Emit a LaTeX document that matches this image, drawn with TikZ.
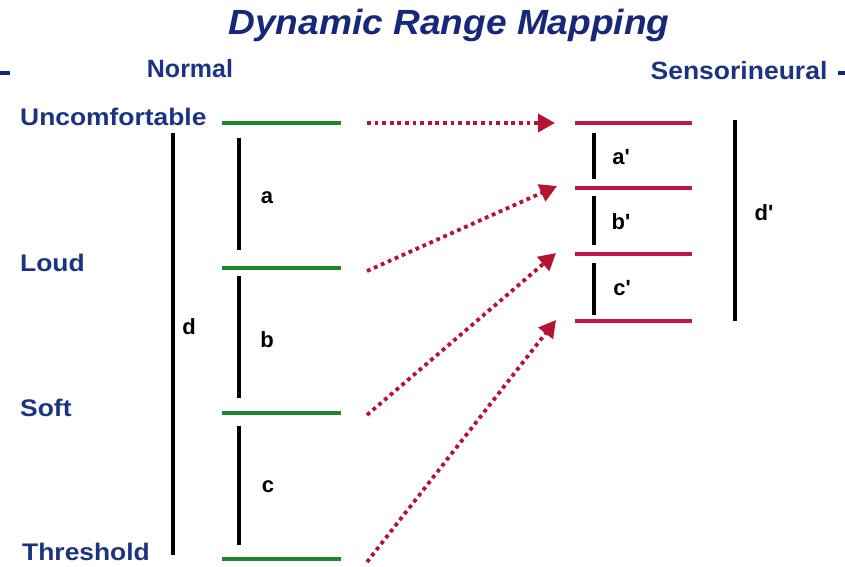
\documentclass[tikz,border=0pt]{standalone}
\usepackage{fontspec}
\setmainfont{Liberation Sans}
\newfontfamily\plainsans{Liberation Sans}
\usetikzlibrary{arrows.meta}
\definecolor{txtblue}{RGB}{28,52,128}
\definecolor{ttlblue}{RGB}{24,40,120}
\definecolor{lvlgreen}{RGB}{30,135,45}
\definecolor{lvlred}{RGB}{190,25,70}
\definecolor{arrred}{RGB}{180,20,50}
\tikzset{
  lbl/.style={font=\fontsize{24}{24}\selectfont\bfseries, text=txtblue, inner sep=0pt, xscale=1.1, anchor=west},
  hdr/.style={font=\fontsize{25}{25}\selectfont\bfseries, text=txtblue, inner sep=0pt},
  ttl/.style={font=\fontsize{35}{35}\selectfont\bfseries\itshape, text=ttlblue, inner sep=0pt, xscale=1.06},
  letter/.style={font=\plainsans\fontsize{22}{22}\selectfont\bfseries, text=black, inner sep=0pt},
  glevel/.style={draw=lvlgreen, line width=4pt},
  rlevel/.style={draw=lvlred, line width=4pt},
  span/.style={draw=black, line width=3.5pt},
  maparrow/.style={draw=arrred, line width=3.8pt, dash pattern=on 3.8pt off 3.8pt,
    -{Triangle[length=17pt,width=18pt,fill=arrred]}},
  tick/.style={draw=ttlblue, line width=4pt}
}
\begin{document}
\begin{tikzpicture}[x=1pt,y=-1pt]
\useasboundingbox (0,0) rectangle (845,566);
\fill[white] (0,0) rectangle (845,566);
% title and headers
\node[ttl] (title) at (449,25) {Dynamic Range Mapping};
\node[hdr] (normal) at (190,69) {Normal};
\node[hdr, xscale=1.06] (sensor) at (739,71) {Sensorineural};
\coordinate (tl1) at (0,73); \coordinate (tl2) at (10,73);
\coordinate (tr1) at (838,73); \coordinate (tr2) at (845,73);
\draw[tick] (tl1) -- (tl2);
\draw[tick] (tr1) -- (tr2);
% left labels
\node[lbl] (unc) at (20,117) {Uncomfortable};
\node[lbl] (loud) at (20,263) {Loud};
\node[lbl] (soft) at (20,408) {Soft};
\node[lbl] (thr) at (22,552) {Threshold};
% green levels
\coordinate (g1w) at (222,123); \coordinate (g1e) at (341,123);
\coordinate (g2w) at (222,268); \coordinate (g2e) at (341,268);
\coordinate (g3w) at (222,413); \coordinate (g3e) at (341,413);
\coordinate (g4w) at (222,559); \coordinate (g4e) at (341,559);
\draw[glevel] (g1w) -- (g1e);
\draw[glevel] (g2w) -- (g2e);
\draw[glevel] (g3w) -- (g3e);
\draw[glevel] (g4w) -- (g4e);
% left spans
\coordinate (dt) at (173,133); \coordinate (db) at (173,555);
\draw[span] (dt) -- (db);
\node[letter] (dl) at (189,327) {d};
\coordinate (at) at (239,138); \coordinate (ab) at (239,250);
\coordinate (bt) at (239,276); \coordinate (bb) at (239,398);
\coordinate (ct) at (239,426); \coordinate (cb) at (239,545);
\draw[span] (at) -- (ab);
\draw[span] (bt) -- (bb);
\draw[span] (ct) -- (cb);
\node[letter] (al) at (267,198) {a};
\node[letter] (bl) at (267,340) {b};
\node[letter] (cl) at (268,487) {c};
% red levels
\coordinate (r1w) at (575,123); \coordinate (r1e) at (692,123);
\coordinate (r2w) at (575,188); \coordinate (r2e) at (692,188);
\coordinate (r3w) at (575,254); \coordinate (r3e) at (692,254);
\coordinate (r4w) at (575,321); \coordinate (r4e) at (692,321);
\draw[rlevel] (r1w) -- (r1e);
\draw[rlevel] (r2w) -- (r2e);
\draw[rlevel] (r3w) -- (r3e);
\draw[rlevel] (r4w) -- (r4e);
% right spans
\coordinate (apt) at (594,133); \coordinate (apb) at (594,179);
\coordinate (bpt) at (594,196); \coordinate (bpb) at (594,245);
\coordinate (cpt) at (594,263); \coordinate (cpb) at (594,315);
\draw[span] (apt) -- (apb);
\draw[span] (bpt) -- (bpb);
\draw[span] (cpt) -- (cpb);
\node[letter] (apl) at (621,157) {a'};
\node[letter] (bpl) at (621,222) {b'};
\node[letter] (cpl) at (622,288) {c'};
\coordinate (dpt) at (735,120); \coordinate (dpb) at (735,321);
\draw[span] (dpt) -- (dpb);
\node[letter] (dpl) at (764,213) {d'};
% mapping arrows
\coordinate (s1) at (367,123); \coordinate (e1) at (555,123);
\coordinate (s2) at (367,271); \coordinate (e2) at (557,186);
\coordinate (s3) at (367,415); \coordinate (e3) at (556,253);
\coordinate (s4) at (367,562); \coordinate (e4) at (556,320);
\draw[maparrow] (s1) -- (e1);
\draw[maparrow] (s2) -- (e2);
\draw[maparrow] (s3) -- (e3);
\draw[maparrow] (s4) -- (e4);
\end{tikzpicture}
\end{document}
